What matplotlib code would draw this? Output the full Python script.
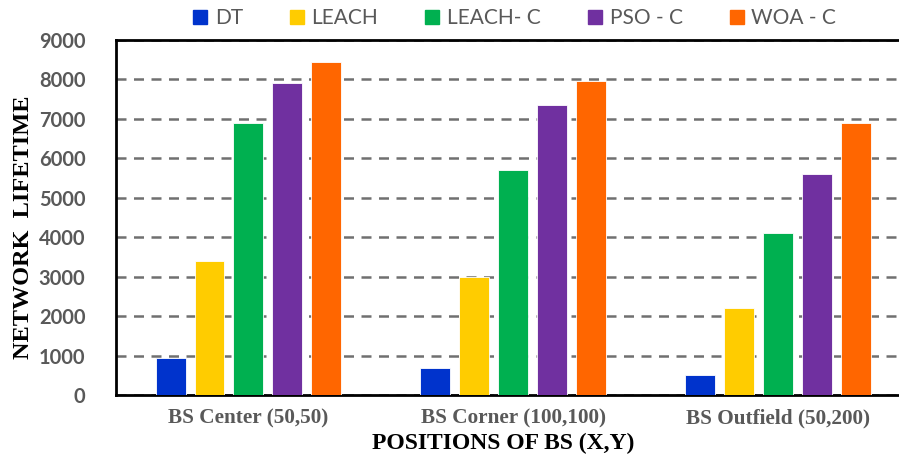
import numpy as np
import matplotlib
matplotlib.use("Agg")
import matplotlib.pyplot as plt
from matplotlib.lines import Line2D

# data
positions = ["BS Center (50,50)", "BS Corner (100,100)", "BS Outfield (50,200)"]
methods = ["DT", "LEACH", "LEACH- C", "PSO - C", "WOA - C"]
dt = [950, 680, 500]
leach = [3400, 3000, 2200]
leach_c = [6900, 5700, 4100]
pso_c = [7900, 7350, 5600]
woa_c = [8450, 7950, 6900]
colors = ["#0033CC", "#FFCC00", "#00B050", "#7030A0", "#FF6600"]

series = [dt, leach, leach_c, pso_c, woa_c]

fig = plt.figure(figsize=(8.99, 4.57), dpi=100)
ax = fig.add_axes([116 / 899, 62 / 457, 794.5 / 899, 355 / 457])

x = np.arange(len(positions))
step = 0.147
width = 0.113
for i, (vals, col) in enumerate(zip(series, colors)):
    ax.bar(x + (i - 2) * step, vals, width, color=col, edgecolor="white",
           linewidth=0.6, zorder=3)

ax.set_xlim(-0.5, 2.5)
ax.set_ylim(0, 9000)
ax.set_yticks(np.arange(0, 9001, 1000))
ax.yaxis.grid(True, linestyle=(0, (4, 3)), color="#707070", linewidth=1.8, zorder=0)
ax.set_axisbelow(True)

for side in ["left", "top", "bottom"]:
    ax.spines[side].set_linewidth(2)
    ax.spines[side].set_color("black")
ax.spines["right"].set_visible(False)

ax.tick_params(axis="both", length=0)
ax.tick_params(axis="y", pad=22)
ax.tick_params(axis="x", pad=10)
ax.set_xticks(x)
ax.set_xticklabels(positions, family="Liberation Serif", fontweight="bold",
                   fontsize=15.3, color="#595959")
for lbl in ax.get_yticklabels():
    lbl.set_family("Lato")
    lbl.set_fontweight("bold")
    lbl.set_fontsize(14.5)
    lbl.set_color("#595959")

ax.set_xlabel("POSITIONS OF BS (X,Y)", family="Liberation Serif", fontweight="bold",
              fontsize=17, color="black")
ax.xaxis.set_label_coords((503 - 116) / 794.5, -(443 - 395) / 355)
ax.xaxis.label.set_va("center")
fig.text(24 / 899, 230 / 457, "NETWORK  LIFETIME", rotation=90, ha="center", va="center",
         family="Liberation Serif", fontweight="bold", fontsize=17.5, color="black")

handles = [Line2D([0], [0], marker="s", linestyle="none", markersize=10,
                  markerfacecolor=c, markeredgecolor=c) for c in colors]
leg = fig.legend(handles, methods, loc="center", bbox_to_anchor=(514 / 899, 1 - 18 / 457),
                 ncol=5, frameon=False, handlelength=0.8, handletextpad=0.3,
                 columnspacing=2.2, prop={"family": "Lato", "size": 15})
for t in leg.get_texts():
    t.set_color("#595959")

fig.savefig("out.png", dpi=100)
